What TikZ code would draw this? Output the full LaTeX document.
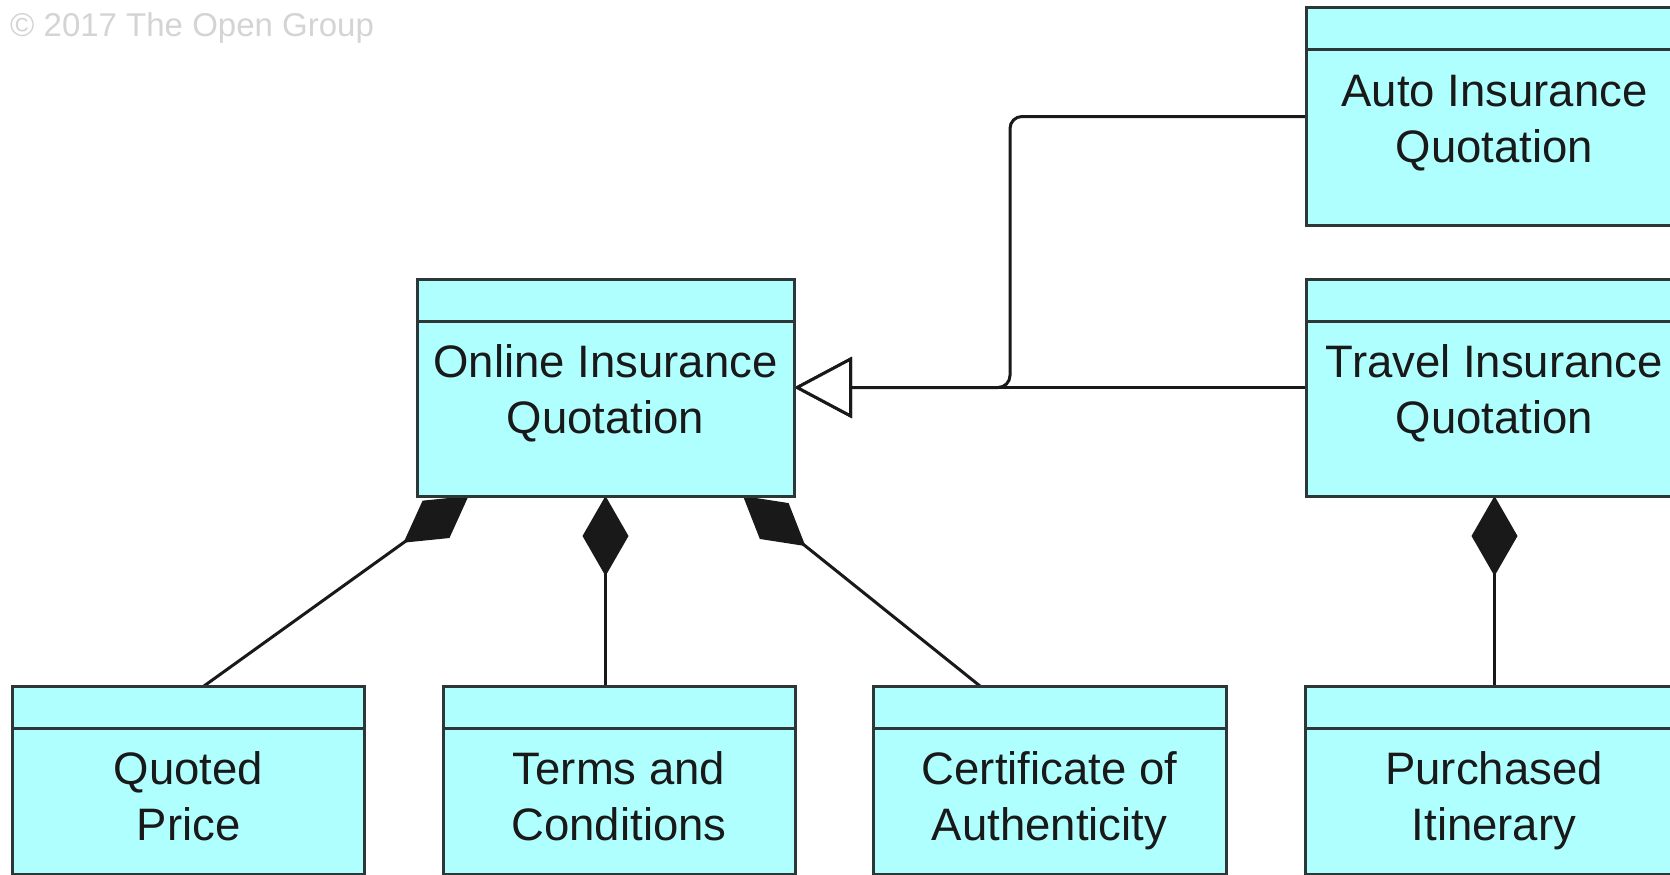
\documentclass[tikz,border=0pt]{standalone}
\usepackage{fontspec}
\setmainfont{Liberation Sans}
\usetikzlibrary{arrows.meta,backgrounds}
\definecolor{boxfill}{RGB}{176,255,255}
\definecolor{boxline}{RGB}{45,55,55}
\definecolor{conncol}{RGB}{25,25,25}
\definecolor{textcol}{RGB}{25,25,25}
\definecolor{copygray}{RGB}{212,212,212}
\newcommand{\twoline}[2]{\strut #1\\\strut #2}
\begin{document}
\begin{tikzpicture}[x=1pt,y=-1pt,
  box/.style={draw=boxline, fill=boxfill, line width=3pt, inner sep=0pt, outer sep=0pt},
  lbl/.style={font=\fontsize{45.5}{56}\selectfont, align=center, inner sep=0pt, text=textcol},
  sepline/.style={draw=boxline, line width=3pt},
  conn/.style={draw=conncol, line width=3pt},
  comp/.style={conn, -{Diamond[length=80pt,width=46pt]}},
  gen/.style={conn, -{Triangle[length=58pt,width=61pt,fill=white]}},
]
\useasboundingbox (0,0) rectangle (1670,875);
\clip (0,0) rectangle (1670,875);
\node[font=\fontsize{33}{39}\selectfont, text=copygray, anchor=base west, inner sep=0pt] (copy) at (10,37) {© 2017 The Open Group};

\node[box, minimum width=377pt, minimum height=217pt] (online) at (605.5,387.5) {};
\node[box, minimum width=377pt, minimum height=217pt] (auto) at (1494.5,116.5) {};
\node[box, minimum width=377pt, minimum height=217pt] (travel) at (1494.5,387.5) {};
\node[box, minimum width=352pt, minimum height=188pt] (quoted) at (188.5,780) {};
\node[box, minimum width=352pt, minimum height=188pt] (terms) at (619,780) {};
\node[box, minimum width=353pt, minimum height=188pt] (cert) at (1049.5,780) {};
\node[box, minimum width=377pt, minimum height=188pt] (purch) at (1494,780) {};

\foreach \b in {online,auto,travel,quoted,terms,cert,purch}
  \draw[sepline] ([yshift=-42pt]\b.north west) -- ([yshift=-42pt]\b.north east);

\node[lbl] (online-t) at ([yshift=-114.8pt]online.north) {\twoline{Online Insurance}{Quotation}};
\node[lbl] (auto-t) at ([yshift=-114.8pt]auto.north) {\twoline{Auto Insurance}{Quotation}};
\node[lbl] (travel-t) at ([yshift=-114.8pt]travel.north) {\twoline{Travel Insurance}{Quotation}};
\node[lbl] (quoted-t) at ([yshift=-114.8pt]quoted.north) {\twoline{Quoted}{Price}};
\node[lbl] (terms-t) at ([yshift=-114.8pt]terms.north) {\twoline{Terms and}{Conditions}};
\node[lbl] (cert-t) at ([yshift=-114.8pt]cert.north) {\twoline{Certificate of}{Authenticity}};
\node[lbl] (purch-t) at ([yshift=-114.8pt]purch.north) {\twoline{Purchased}{Itinerary}};

\begin{scope}[on background layer]
\draw[gen] (travel.west) -- (online.east);
\draw[gen, rounded corners=12pt] (auto.west) -- ++(-296,0) |- (online.east);
\draw[comp] (online.south |- terms.north) -- (online.south);
\draw[comp] (travel.south |- purch.north) -- (travel.south);
\draw[comp] ([xshift=191.5pt]quoted.north west) -- ([xshift=51.5pt]online.south west);
\draw[comp] ([xshift=107pt]cert.north west) -- ([xshift=-51pt]online.south east);
\end{scope}
\end{tikzpicture}
\end{document}
